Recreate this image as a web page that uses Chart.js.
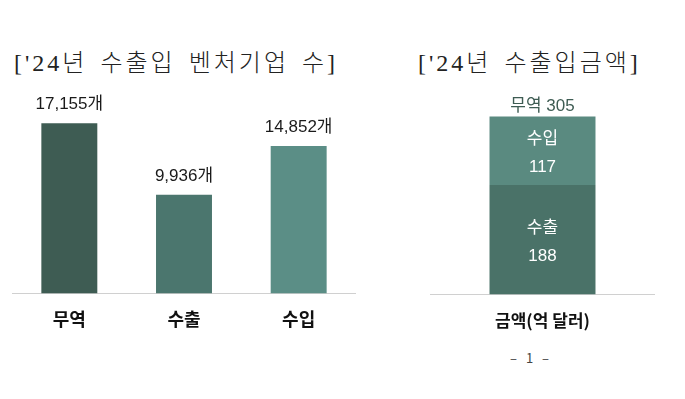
<!DOCTYPE html>
<html>
<head>
<meta charset="utf-8">
<script src="https://cdn.jsdelivr.net/npm/chart.js@4"></script>
<style>
  body { margin: 0; background: #fff; width: 685px; height: 399px; position: relative; overflow: hidden; }
  .title { position: absolute; top: 43px; font-family: "Liberation Serif", "Noto Sans CJK KR", serif; font-weight: 300; font-size: 24px; color: #222; white-space: nowrap; letter-spacing: 3px; word-spacing: 4px; }
  canvas { position: absolute; }
  .page { position: absolute; left: 510px; top: 348px; font-family: "Noto Sans CJK KR", sans-serif; font-size: 13px; color: #444; letter-spacing: 3px; }
</style>
</head>
<body>
<div class="title" style="left:14px">['24년 수출입 벤처기업 수]</div>
<div class="title" style="left:418px">['24년 수출입금액]</div>
<div id="left" style="position:absolute;left:12px;top:80px;width:344px;height:257px"><canvas id="countChart"></canvas></div>
<div id="right" style="position:absolute;left:430px;top:80px;width:225px;height:259px"><canvas id="amountChart"></canvas></div>
<div class="page">– 1 –</div>
<script>
const categories = ['무역', '수출', '수입'];
const companyCounts = [17155, 9936, 14852];
const barColors = ['#3e5c53', '#4b766e', '#5b8e86'];

const amountCategory = ['금액(억 달러)'];
const exportAmount = [188];
const importAmount = [117];
const tradeTotal = [305];

const korFont = '"Noto Sans CJK KR", "Noto Sans", sans-serif';
const numFont = '"Liberation Sans", "Noto Sans CJK KR", sans-serif';

// value labels above the bars
const countLabels = {
    id: 'countLabels',
    afterDatasetsDraw(chart) {
        const c = chart.ctx;
        const meta = chart.getDatasetMeta(0);
        c.save();
        c.font = '17px ' + numFont;
        c.fillStyle = '#1a1a1a';
        c.textAlign = 'center';
        c.textBaseline = 'bottom';
        meta.data.forEach((bar, i) => {
            c.fillText(companyCounts[i].toLocaleString('en-US') + '개', bar.x, bar.y - 10);
        });
        c.restore();
    }
};

const amountLabels = {
    id: 'amountLabels',
    afterDatasetsDraw(chart) {
        const c = chart.ctx;
        c.save();
        c.textAlign = 'center';
        c.textBaseline = 'middle';
        c.font = '17px ' + numFont;
        chart.data.datasets.forEach((ds, di) => {
            const bar = chart.getDatasetMeta(di).data[0];
            const mid = (bar.y + bar.base) / 2;
            c.fillStyle = '#fff';
            c.fillText(ds.label, bar.x, mid - 11);
            c.fillText(String(ds.data[0]), bar.x, mid + 17);
        });
        const topBar = chart.getDatasetMeta(1).data[0];
        c.fillStyle = '#3e5c53';
        c.fillText('무역 ' + tradeTotal[0], topBar.x, topBar.y - 10);
        c.restore();
    }
};

new Chart(document.getElementById('countChart'), {
    type: 'bar',
    data: {
        labels: categories,
        datasets: [{
            data: companyCounts,
            backgroundColor: barColors,
            barPercentage: 0.488,
            categoryPercentage: 1
        }]
    },
    options: {
        responsive: true,
        maintainAspectRatio: false,
        animation: false,
        layout: { padding: { top: 15, bottom: 0 } },
        plugins: { legend: { display: false }, tooltip: { enabled: false } },
        scales: {
            x: {
                grid: { display: false },
                border: { color: '#d0d0d0' },
                ticks: { color: '#111', padding: 7, font: { family: korFont, size: 18, weight: 'bold' } }
            },
            y: { display: false, min: 0, max: 20000 }
        }
    },
    plugins: [countLabels]
});

new Chart(document.getElementById('amountChart'), {
    type: 'bar',
    data: {
        labels: amountCategory,
        datasets: [
            { label: '수출', data: exportAmount, backgroundColor: '#4a7268', barPercentage: 0.471, categoryPercentage: 1 },
            { label: '수입', data: importAmount, backgroundColor: '#5a8a80', barPercentage: 0.471, categoryPercentage: 1 }
        ]
    },
    options: {
        responsive: true,
        maintainAspectRatio: false,
        animation: false,
        layout: { padding: { top: 15, bottom: 0 } },
        plugins: { legend: { display: false }, tooltip: { enabled: false } },
        scales: {
            x: {
                stacked: true,
                grid: { display: false },
                border: { color: '#d0d0d0' },
                ticks: { color: '#111', padding: 8, font: { family: korFont, size: 17, weight: 'bold' } }
            },
            y: { stacked: true, display: false, min: 0, max: 342 }
        }
    },
    plugins: [amountLabels]
});
</script>
</body>
</html>
